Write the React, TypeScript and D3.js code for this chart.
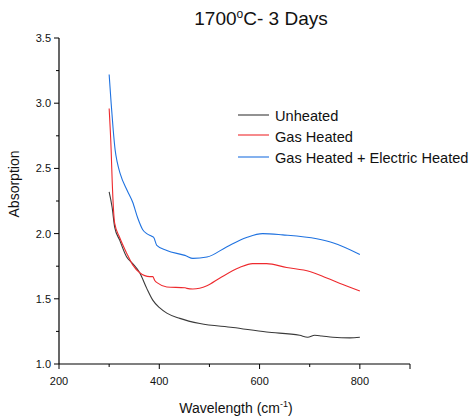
import React from "react";
import * as d3 from "d3";

// wavelength / absorption
const unheatedX = [300, 306, 311, 321, 335, 347, 361, 375, 387, 401, 415, 441, 481, 547, 614, 680, 696, 710, 724, 746, 780, 800];
const unheatedY = [2.32, 2.2, 2.05, 1.95, 1.82, 1.77, 1.7, 1.58, 1.49, 1.43, 1.39, 1.35, 1.31, 1.28, 1.245, 1.22, 1.205, 1.22, 1.215, 1.205, 1.2, 1.205];

const gasX = [300, 304, 306, 311, 321, 335, 347, 361, 381, 387, 391, 397, 415, 451, 455, 467, 495, 521, 560, 586, 614, 654, 700, 734, 766, 800];
const gasY = [2.96, 2.64, 2.41, 2.08, 1.97, 1.85, 1.76, 1.7, 1.67, 1.67, 1.64, 1.62, 1.59, 1.585, 1.58, 1.575, 1.6, 1.66, 1.74, 1.77, 1.77, 1.74, 1.71, 1.66, 1.61, 1.56];

const electricX = [300, 304, 308, 312, 316, 322, 336, 347, 357, 367, 375, 385, 389, 395, 415, 449, 453, 467, 495, 535, 574, 606, 646, 714, 746, 800];
const electricY = [3.22, 3.0, 2.8, 2.64, 2.55, 2.46, 2.33, 2.24, 2.12, 2.03, 2.0, 1.98, 1.97, 1.91, 1.87, 1.835, 1.83, 1.81, 1.82, 1.9, 1.97, 2.0, 1.99, 1.96, 1.93, 1.84];

const seriesNames = ["Unheated", "Gas Heated", "Gas Heated + Electric Heated"];
const seriesColors = ["#3a3a3a", "#ee2a2e", "#1f72e0"];

const xTicks = [200, 400, 600, 800];
const xMinor = [300, 500, 700, 900];
const yTicks = [1.0, 1.5, 2.0, 2.5, 3.0, 3.5];
const yMinor = [1.25, 1.75, 2.25, 2.75, 3.25];

const font = "'Liberation Sans', Arial, sans-serif";

const App = () => {
  const x = d3.scaleLinear().domain([200, 900]).range([59, 410]);
  const y = d3.scaleLinear().domain([1, 3.5]).range([364, 38]);

  const line = d3
    .line<[number, number]>()
    .x((d) => x(d[0]))
    .y((d) => y(d[1]))
    .curve(d3.curveMonotoneX);

  const series = [
    d3.zip(unheatedX, unheatedY),
    d3.zip(gasX, gasY),
    d3.zip(electricX, electricY),
  ] as [number, number][][];

  const legendLineY = [115, 135, 157];
  const legendTextY = [121, 142, 163];

  return (
    <svg width={470} height={420} style={{ position: "absolute", left: 0, top: 0 }} fontFamily={font}>
      <rect width={470} height={420} fill="#fff" />

      {/* title */}
      <text x={261} y={25} textAnchor="middle" fontSize={19} fill="#111">
        1700<tspan fontSize={12} dy={-7}>o</tspan>
        <tspan dy={7}>C- 3 Days</tspan>
      </text>

      {/* lines */}
      {series.map((s, i) => (
        <path key={i} d={line(s) || ""} fill="none" stroke={seriesColors[i]} strokeWidth={1.1} />
      ))}

      {/* axes */}
      <line x1={59} x2={59} y1={y(3.5)} y2={y(1)} stroke="#000" strokeWidth={1.2} />
      <line x1={59} x2={410} y1={364} y2={364} stroke="#000" strokeWidth={1.2} />
      {yTicks.map((t) => (
        <g key={t}>
          <line x1={54} x2={59} y1={y(t)} y2={y(t)} stroke="#000" />
          <text x={51} y={y(t) + 4} textAnchor="end" fontSize={11} fill="#111">
            {t.toFixed(1)}
          </text>
        </g>
      ))}
      {yMinor.map((t) => (
        <line key={t} x1={56} x2={59} y1={y(t)} y2={y(t)} stroke="#000" />
      ))}
      {xTicks.map((t) => (
        <g key={t}>
          <line x1={x(t)} x2={x(t)} y1={364} y2={369} stroke="#000" />
          <text x={x(t)} y={385} textAnchor="middle" fontSize={11} fill="#111">
            {t}
          </text>
        </g>
      ))}
      {xMinor.map((t) => (
        <line key={t} x1={x(t)} x2={x(t)} y1={364} y2={t === 900 ? 369 : 367} stroke="#000" />
      ))}

      {/* axis labels */}
      <text x={236} y={413} textAnchor="middle" fontSize={14} fill="#111">
        Wavelength (cm<tspan fontSize={9} dy={-6}>-1</tspan>
        <tspan dy={6}>)</tspan>
      </text>
      <text transform="translate(19,184) rotate(-90)" textAnchor="middle" fontSize={14} fill="#111">
        Absorption
      </text>

      {/* legend */}
      {seriesNames.map((n, i) => (
        <g key={n}>
          <line x1={238} x2={269} y1={legendLineY[i]} y2={legendLineY[i]} stroke={seriesColors[i]} strokeWidth={1.1} />
          <text x={275} y={legendTextY[i]} fontSize={14.6} fill="#111">
            {n}
          </text>
        </g>
      ))}
    </svg>
  );
};

export default App;
